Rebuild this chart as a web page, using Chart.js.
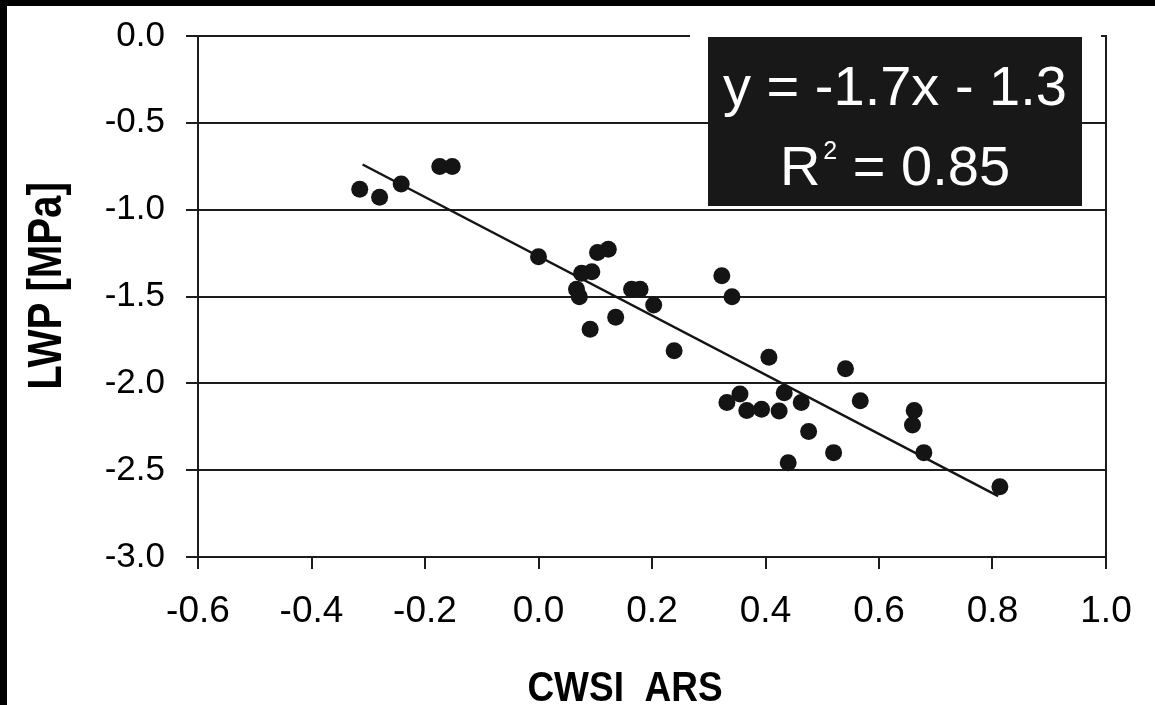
<!DOCTYPE html>
<html>
<head>
<meta charset="utf-8">
<script src="https://cdn.jsdelivr.net/npm/chart.js@4.4.1/dist/chart.umd.min.js"></script>
<style>
    html, body { margin: 0; padding: 0; background: #000; }
    #wrap { position: absolute; left: 7px; top: 6px; width: 1148px; height: 699px; background: #fff; }
</style>
</head>
<body>
<div id="wrap"><canvas id="myChart"></canvas></div>
<script>
// CWSI (ARS) vs leaf water potential
const cwsi = [-0.315, -0.28, -0.242, -0.174, -0.152, 0.0, 0.104, 0.123, 0.076, 0.094,
    0.067, 0.072, 0.164, 0.179, 0.203, 0.136, 0.091, 0.239, 0.323, 0.341,
    0.406, 0.541, 0.332, 0.355, 0.367, 0.393, 0.424, 0.433, 0.463, 0.476,
    0.520, 0.440, 0.567, 0.662, 0.659, 0.679, 0.813];
const lwp = [-0.883, -0.929, -0.852, -0.752, -0.752, -1.271, -1.247, -1.228, -1.366, -1.357,
    -1.458, -1.501, -1.458, -1.458, -1.549, -1.619, -1.689, -1.813, -1.380, -1.501,
    -1.850, -1.916, -2.111, -2.061, -2.157, -2.149, -2.159, -2.054, -2.111, -2.278,
    -2.399, -2.457, -2.100, -2.157, -2.240, -2.399, -2.595];

// regression line end points
const fitX = [-0.31, 0.81];
const fitY = [-0.74, -2.65];

const xTicks = [-0.6, -0.4, -0.2, 0.0, 0.2, 0.4, 0.6, 0.8, 1.0];
const yTicks = [0.0, -0.5, -1.0, -1.5, -2.0, -2.5, -3.0];

const xTitle = 'CWSI  ARS';
const yTitle = 'LWP [MPa]';
const eqText = 'y = -1.7x - 1.3';
const r2Text = '0.85';

const lineColor = '#1c1c1c';
const fontFamily = "'Liberation Sans', Arial, sans-serif";

function fmt(v) {
    return (Math.abs(v) < 1e-9 ? 0 : v).toFixed(1);
}

// box with the equation, right border and axis titles
const overlayPlugin = {
    id: 'overlay',
    afterDraw(chart) {
        const ctx = chart.ctx;
        const a = chart.chartArea;
        ctx.save();

        // right frame line
        ctx.strokeStyle = lineColor;
        ctx.lineWidth = 2;
        ctx.beginPath();
        ctx.moveTo(a.right, a.top - 1);
        ctx.lineTo(a.right, a.bottom);
        ctx.stroke();

        // white margin round the equation box hides the top line
        ctx.fillStyle = '#fff';
        ctx.fillRect(a.left + 492, a.top - 5, a.right - 5 - (a.left + 492), 9);

        // equation box
        const bx = a.left + 510, by = a.top + 1, bw = 374, bh = 169;
        ctx.fillStyle = '#181818';
        ctx.fillRect(bx, by, bw, bh);
        const cx = bx + bw / 2;

        ctx.fillStyle = '#fff';
        ctx.textBaseline = 'alphabetic';
        ctx.textAlign = 'center';
        ctx.font = '56px ' + fontFamily;
        ctx.fillText(eqText, cx, a.top + 69);

        // R² = 0.85
        ctx.textAlign = 'left';
        const big = '56px ' + fontFamily;
        const small = '25px ' + fontFamily;
        ctx.font = big;
        const wR = ctx.measureText('R').width;
        const wRest = ctx.measureText(' = ' + r2Text).width;
        ctx.font = small;
        const wSup = ctx.measureText('2').width;
        const total = wR + 3 + wSup + wRest;
        let x = cx - total / 2;
        const base2 = a.top + 149;
        ctx.font = big;
        ctx.fillText('R', x, base2);
        x += wR + 3;
        ctx.font = small;
        ctx.fillText('2', x, base2 - 26);
        x += wSup;
        ctx.font = big;
        ctx.fillText(' = ' + r2Text, x, base2);

        // axis titles (narrow bold)
        ctx.fillStyle = '#000';
        ctx.textAlign = 'center';
        ctx.textBaseline = 'middle';

        ctx.save();
        ctx.translate(a.left - 151, a.top + 250);
        ctx.rotate(-Math.PI / 2);
        ctx.scale(0.82, 1);
        ctx.font = 'bold 49px ' + fontFamily;
        ctx.fillText(yTitle, 0, 0);
        ctx.restore();

        ctx.save();
        ctx.translate(a.left + 427, a.bottom + 132);
        ctx.scale(0.86, 1);
        ctx.font = 'bold 43px ' + fontFamily;
        ctx.fillText(xTitle, 0, 0);
        ctx.restore();

        ctx.restore();
    }
};

const ctx = document.getElementById('myChart').getContext('2d');

let myChart = new Chart(ctx, {
    type: 'scatter',
    data: {
        datasets: [{
            label: 'LWP',
            data: cwsi.map((v, i) => ({ x: v, y: lwp[i] })),
            backgroundColor: '#141414',
            borderWidth: 0,
            pointRadius: 8.5,
            order: 1
        }, {
            type: 'line',
            label: 'fit',
            data: fitX.map((v, i) => ({ x: v, y: fitY[i] })),
            borderColor: '#141414',
            borderWidth: 2.5,
            pointRadius: 0,
            fill: false,
            order: 2
        }]
    },
    options: {
        responsive: true,
        maintainAspectRatio: false,
        animation: false,
        layout: { padding: { left: 0, right: 49, top: 30, bottom: 0 } },
        plugins: {
            legend: { display: false },
            tooltip: { enabled: false }
        },
        scales: {
            x: {
                type: 'linear',
                min: -0.6,
                max: 1.0,
                afterBuildTicks: s => { s.ticks = xTicks.map(v => ({ value: v })); },
                afterFit: s => { s.height = 148; },
                grid: { drawOnChartArea: false, drawTicks: true, tickLength: 12, color: lineColor, lineWidth: 2 },
                border: { display: true, color: lineColor, width: 2 },
                ticks: {
                    autoSkip: false,
                    maxRotation: 0,
                    padding: 21,
                    color: '#000',
                    font: { family: fontFamily, size: 37 },
                    callback: v => fmt(v)
                }
            },
            y: {
                type: 'linear',
                min: -3.0,
                max: 0.0,
                afterBuildTicks: s => { s.ticks = yTicks.map(v => ({ value: v })); },
                afterFit: s => {
                    s.width = 191;
                    s.paddingTop = 0;
                    s.paddingBottom = 0;
                },
                grid: { drawTicks: true, tickLength: 12, color: lineColor, lineWidth: 2 },
                border: { display: true, color: lineColor, width: 2 },
                ticks: {
                    autoSkip: false,
                    padding: 21,
                    color: '#000',
                    font: { family: fontFamily, size: 35 },
                    callback: v => fmt(v)
                }
            }
        }
    },
    plugins: [overlayPlugin]
});
</script>
</body>
</html>
